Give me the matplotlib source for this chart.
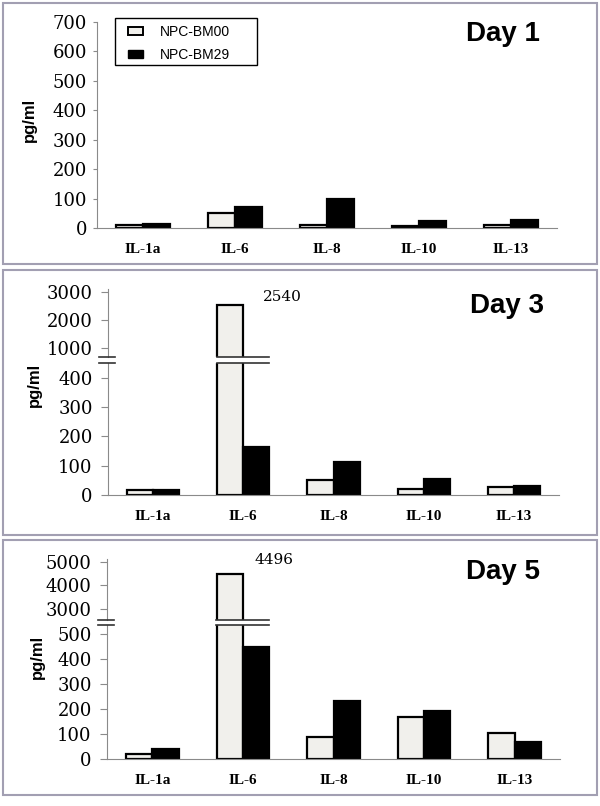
import numpy as np
import matplotlib.pyplot as plt
from matplotlib.patches import Patch, Rectangle
from matplotlib.lines import Line2D
from matplotlib.transforms import blended_transform_factory

cytokines = ['IL-1a', 'IL-6', 'IL-8', 'IL-10', 'IL-13']
series_names = ['NPC-BM00', 'NPC-BM29']
day1_bm00 = [11, 52, 11, 8, 10]
day1_bm29 = [12, 72, 97, 24, 26]
day3_bm00 = [18, 2540, 52, 22, 27]
day3_bm29 = [17, 163, 113, 56, 31]
day5_bm00 = [21, 4496, 90, 168, 106]
day5_bm29 = [41, 448, 234, 193, 68]

W, H = 600, 806
fig = plt.figure(figsize=(W / 100, H / 100), dpi=100)
fig.patch.set_facecolor('white')

light = '#f1f0ec'
spine_col = '#8a8a8a'
bw = 0.29
x = np.arange(len(cytokines))


def px_axes(left, right, top, bottom):
    return fig.add_axes([left / W, 1 - bottom / H, (right - left) / W, (bottom - top) / H])


def draw_bars(ax, v0, v1, tick_len=5, tick_pad=6):
    ax.bar(x - bw / 2, v0, bw, color=light, edgecolor='black', linewidth=1.6)
    ax.bar(x + bw / 2, v1, bw, color='black', edgecolor='black', linewidth=1.6)
    ax.set_xlim(-0.5, 4.5)
    for s in ['top', 'right']:
        ax.spines[s].set_visible(False)
    ax.spines['left'].set_color(spine_col)
    ax.spines['bottom'].set_color(spine_col)
    ax.tick_params(axis='y', length=tick_len, color=spine_col, pad=tick_pad,
                   labelsize=13, labelfontfamily='DejaVu Serif')
    ax.tick_params(axis='x', length=0, pad=11)
    ax.set_xticks(x)
    ax.set_xticklabels(cytokines, family='Liberation Serif', weight='bold', fontsize=11)


def panel_box(top, bottom):
    fig.patches.append(Rectangle((3 / W, 1 - bottom / H), 594 / W, (bottom - top) / H,
                                 transform=fig.transFigure, fill=False,
                                 edgecolor='#a29fb2', linewidth=1.5))


def broken(left, right, top, brk_hi, brk_lo, bottom, v0, v1, low_lim, up_lim, up_ticks, low_ticks, big_label, lab_xy):
    up = px_axes(left, right, top, brk_hi)
    low = px_axes(left, right, brk_lo, bottom)
    draw_bars(up, v0, v1)
    draw_bars(low, v0, v1)
    up.set_ylim(*up_lim)
    low.set_ylim(*low_lim)
    up.set_yticks(up_ticks)
    low.set_yticks(low_ticks)
    up.spines['bottom'].set_visible(False)
    up.set_xticks([])
    # break marks
    tr = blended_transform_factory(low.transData, fig.transFigure)
    big = int(np.argmax(v0))
    for yy in (brk_hi, brk_lo):
        yf = 1 - yy / H
        for x0, x1 in ((-0.5 - 0.1, -0.5 + 0.08), (big - bw / 2 - 0.15, big - bw / 2 + 0.43)):
            fig.lines.append(Line2D([x0, x1], [yf, yf], transform=tr, color='#333333', linewidth=1.2))
    up.text(lab_xy[0], lab_xy[1], big_label, ha='center', va='center',
            family='DejaVu Serif', fontsize=11)
    return up, low


# Day 1
panel_box(3, 264)
ax1 = px_axes(97, 557, 22, 228)
draw_bars(ax1, day1_bm00, day1_bm29, tick_len=3, tick_pad=4)
ax1.set_ylim(0, 700)
ax1.set_yticks(range(0, 701, 100))
handles = [Patch(facecolor=light, edgecolor='black', linewidth=1.4),
           Patch(facecolor='black', edgecolor='black')]
ax1.legend(handles, series_names, loc='upper left', bbox_to_anchor=(128 / W, 1 - 25 / H),
           bbox_transform=fig.transFigure, frameon=False,
           prop={'family': 'Liberation Sans', 'size': 10},
           handlelength=1.08, handleheight=0.55, handletextpad=1.2,
           labelspacing=0.62, borderpad=0, borderaxespad=0)
fig.patches.append(Rectangle((115 / W, 1 - 65 / H), 142 / W, 47 / H, transform=fig.transFigure,
                             fill=False, edgecolor='black', linewidth=1.0))

# Day 3
panel_box(270, 535)
broken(108, 559, 289, 357, 363, 495, day3_bm00, day3_bm29,
       (0, 451), (679, 3107), [1000, 2000, 3000], [0, 100, 200, 300, 400],
       '2540', (1.43, 2820))

# Day 5
panel_box(540, 795)
broken(107, 560, 559, 620, 625, 759, day5_bm00, day5_bm29,
       (0, 536), (2550, 5113), [3000, 4000, 5000], [0, 100, 200, 300, 400, 500],
       '4496', (1.34, 5070))

for label, cx, cy in (('Day 1', 503, 34), ('Day 3', 507, 306), ('Day 5', 503, 572)):
    fig.text(cx / W, 1 - cy / H, label, ha='center', va='center',
             family='Liberation Sans', weight='bold', fontsize=20)

for cx, cy in ((29, 120), (34, 385), (37, 657)):
    fig.text(cx / W, 1 - cy / H, 'pg/ml', rotation=90, ha='center', va='center',
             family='Liberation Sans', weight='bold', fontsize=12)

fig.savefig('out.png', dpi=100, facecolor='white')
